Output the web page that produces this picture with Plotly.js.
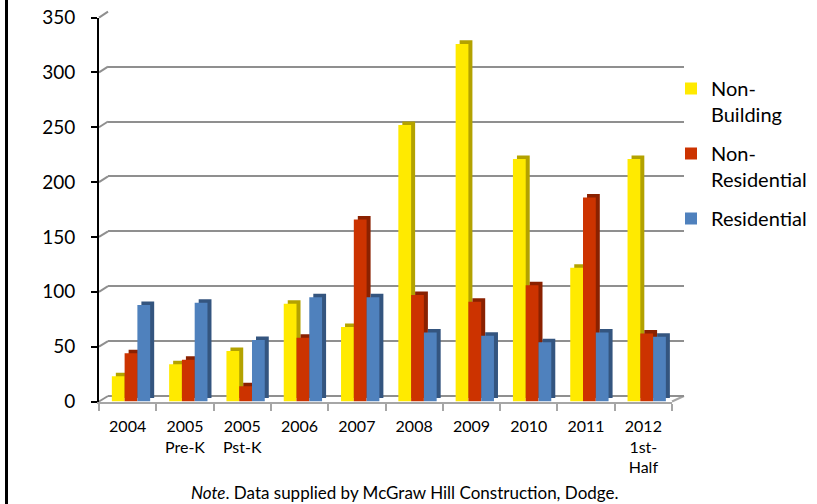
<!DOCTYPE html>
<html>
<head>
<meta charset="utf-8">
<script src="https://cdn.plot.ly/plotly-3.0.1.min.js"></script>
<style>
  html, body { margin: 0; padding: 0; background: #ffffff; }
  #wrap { position: relative; width: 817px; height: 504px; overflow: hidden; }
  #chart { width: 817px; height: 504px; }
  #edge { position: absolute; left: 5px; top: 0; width: 2.5px; height: 504px; background: #000; }
</style>
</head>
<body>
<div id="wrap"><div id="chart"></div><div id="edge"></div></div>
<script>
// ---- data ----
const categories = ['2004', '2005<br>Pre-K', '2005<br>Pst-K', '2006', '2007', '2008', '2009', '2010', '2011', '2012<br>1st-<br>Half'];
const nonBuilding    = [23, 34, 46, 89, 68, 252, 326, 221, 122, 221];
const nonResidential = [44, 38, 14, 58, 166, 97, 91, 106, 186, 62];
const residential    = [88, 90, 56, 95, 95, 63, 60, 54, 63, 59];
const seriesNames = ['Non-<br>Building', 'Non-<br>Residential', 'Residential'];
const yTickValues = [0, 50, 100, 150, 200, 250, 300, 350];
const noteText = '<i>Note</i>. Data supplied by McGraw Hill Construction, Dodge.';

// ---- styling ----
const W = 817, H = 504;
const FONT = 'Lato, "Open Sans", sans-serif';
const frontColors = ['#FFEA00', '#CC3300', '#4F81BD'];
const sideColors  = ['#B3A200', '#8A2100', '#34557F'];
const barWidth = 0.223;
const offsets = [-0.276, -0.053, 0.170];
const depthDX = 0.07, depthDY = 3.2;

// pixel layout helpers
const px = v => v / W;
const py = v => 1 - v / H;
const frontY0 = 401.5, frontScale = 1.097;
const backY0 = 396, backScale = 1.098;

const seriesValues = [nonBuilding, nonResidential, residential];
const traces = [];
// invisible trace on the back-wall grid subplot
traces.push({ type: 'scatter', x: [], y: [], xaxis: 'x', yaxis: 'y', showlegend: false, hoverinfo: 'skip' });

seriesValues.forEach((vals, i) => {
  // depth (side/top) face
  traces.push({
    type: 'bar', x: categories, y: vals, base: depthDY,
    xaxis: 'x2', yaxis: 'y2',
    width: barWidth, offset: offsets[i] + depthDX,
    marker: { color: sideColors[i], line: { width: 0 } },
    showlegend: false, hoverinfo: 'skip', legendgroup: 'g' + i
  });
  // front face
  traces.push({
    type: 'bar', x: categories, y: vals, name: seriesNames[i],
    xaxis: 'x2', yaxis: 'y2',
    width: barWidth, offset: offsets[i],
    marker: { color: frontColors[i], line: { width: 0 } },
    legendgroup: 'g' + i
  });
});

// wall edges (decorative 3D axis corners)
const shapes = yTickValues.map(v => ({
  type: 'line', xref: 'paper', yref: 'paper', layer: 'below',
  x0: px(99), y0: py(frontY0 - frontScale * v),
  x1: px(108), y1: py(backY0 - backScale * v),
  line: { color: '#8f8f8f', width: 2 }
}));
shapes.push({
  type: 'line', xref: 'paper', yref: 'paper', layer: 'below',
  x0: px(672), y0: py(frontY0), x1: px(684), y1: py(backY0),
  line: { color: '#a6a6a6', width: 2 }
});

const layout = {
  width: W, height: H,
  margin: { l: 0, r: 0, t: 0, b: 0 },
  paper_bgcolor: '#ffffff',
  plot_bgcolor: 'rgba(0,0,0,0)',
  barmode: 'overlay',
  font: { family: FONT, color: '#000000' },
  // back wall gridlines
  xaxis: { domain: [px(108), px(684)], anchor: 'y', range: [0, 1], visible: false, fixedrange: true },
  yaxis: {
    domain: [py(backY0), py(11.7)], anchor: 'x', range: [0, 350],
    tickvals: yTickValues, showticklabels: false, ticks: '',
    showgrid: true, gridcolor: '#8f8f8f', gridwidth: 2,
    zeroline: true, zerolinecolor: '#8f8f8f', zerolinewidth: 2,
    showline: false, fixedrange: true
  },
  // front: bars, category axis and value axis
  xaxis2: {
    domain: [px(99), px(672)], anchor: 'y2', type: 'category', range: [-0.5, 9.5],
    showline: true, linecolor: '#a6a6a6', linewidth: 2,
    ticks: 'outside', tickson: 'boundaries', ticklen: 7, tickwidth: 2, tickcolor: '#a6a6a6',
    ticklabelstandoff: 9,
    tickfont: { family: FONT, size: 16, color: '#000' },
    showgrid: false, zeroline: false, fixedrange: true
  },
  yaxis2: {
    domain: [py(frontY0), py(frontY0 - frontScale * 350)], anchor: 'x2', range: [0, 350],
    tickvals: yTickValues, ticktext: yTickValues.map(String),
    showline: true, linecolor: '#000', linewidth: 2,
    ticks: 'outside', ticklen: 6, tickwidth: 2, tickcolor: '#000',
    ticklabelstandoff: 12,
    tickfont: { family: FONT, size: 19, color: '#000' },
    showgrid: false, zeroline: false, fixedrange: true
  },
  legend: {
    x: px(671), xanchor: 'left', y: py(69), yanchor: 'top',
    font: { family: FONT, size: 20, color: '#000' },
    bgcolor: 'rgba(0,0,0,0)', valign: 'top',
    traceorder: 'grouped', tracegroupgap: 10
  },
  shapes: shapes,
  annotations: [{
    text: noteText, xref: 'paper', yref: 'paper',
    x: px(405), y: py(492), xanchor: 'center', yanchor: 'middle',
    showarrow: false, font: { family: FONT, size: 17, color: '#000' }
  }]
};

Plotly.newPlot('chart', traces, layout, { displayModeBar: false, staticPlot: true });
</script>
</body>
</html>
